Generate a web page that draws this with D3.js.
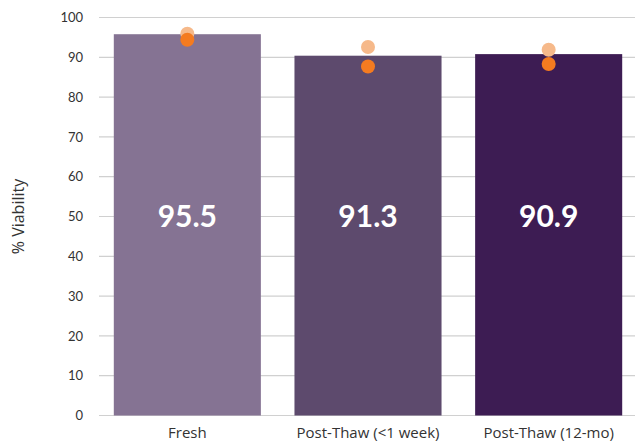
<!DOCTYPE html>
<html>
<head>
<meta charset="utf-8">
<script src="https://cdn.jsdelivr.net/npm/d3@7"></script>
<style>
  html, body { margin: 0; padding: 0; background: #fff; }
  svg { display: block; font-family: Lato, "Open Sans", sans-serif; }
</style>
</head>
<body>
<svg id="chart" width="635" height="441"></svg>
<script>
const categories = ["Fresh", "Post-Thaw (<1 week)", "Post-Thaw (12-mo)"];
const barValues = [95.8, 90.4, 90.8];
const barLabels = ["95.5", "91.3", "90.9"];
const replicateA = [95.9, 92.6, 91.9];
const replicateB = [94.4, 87.7, 88.3];
const yTicks = [0, 10, 20, 30, 40, 50, 60, 70, 80, 90, 100];
const barColors = ["#857393", "#5d4a6d", "#3d1c53"];

const svg = d3.select("#chart");
const W = 635;
const x = d3.scaleBand().domain(categories).range([97, 639]).paddingInner(0.186).paddingOuter(0.093);
const y = d3.scaleLinear().domain([0, 100]).range([415.5, 17.5]);

// y tick labels
const yAxis = d3.axisLeft(y).tickValues(yTicks).tickSize(0).tickPadding(0);
const gy = svg.append("g").attr("transform", "translate(83,0)").call(yAxis);
gy.select(".domain").remove();
gy.selectAll("text").attr("font-size", 13).attr("fill", "#333").attr("font-family", "Lato, sans-serif");

// gridlines
svg.append("g").selectAll("line").data(yTicks).join("line")
  .attr("x1", 99).attr("x2", W)
  .attr("y1", d => y(d)).attr("y2", d => y(d))
  .attr("stroke", "#d0d0d0").attr("stroke-width", 1.2);

// bars
svg.append("g").selectAll("rect").data(categories).join("rect")
  .attr("x", d => x(d)).attr("width", x.bandwidth())
  .attr("y", (d, i) => y(barValues[i]))
  .attr("height", (d, i) => y(0) - y(barValues[i]))
  .attr("fill", (d, i) => barColors[i]);

// dots
svg.append("g").selectAll("circle").data(categories).join("circle")
  .attr("cx", d => x(d) + x.bandwidth() / 2)
  .attr("cy", (d, i) => y(replicateA[i]))
  .attr("r", 7).attr("fill", "#f6b98a");
svg.append("g").selectAll("circle").data(categories).join("circle")
  .attr("cx", d => x(d) + x.bandwidth() / 2)
  .attr("cy", (d, i) => y(replicateB[i]))
  .attr("r", 7).attr("fill", "#f47b20");

// value labels
svg.append("g").selectAll("text").data(categories).join("text")
  .attr("x", d => x(d) + x.bandwidth() / 2)
  .attr("y", y(50))
  .attr("dy", "0.36em")
  .attr("text-anchor", "middle")
  .attr("fill", "#fff").attr("font-weight", 700).attr("font-size", 30)
  .text((d, i) => barLabels[i]);

// x axis labels
const xAxis = d3.axisBottom(x).tickSize(0).tickPadding(0);
const gx = svg.append("g").attr("transform", "translate(0,438)").call(xAxis);
gx.select(".domain").remove();
gx.selectAll("text").attr("font-size", 15).attr("fill", "#333").attr("dy", 0).attr("font-family", "'Open Sans', sans-serif");

// y title
svg.append("text")
  .attr("transform", "translate(24," + y(50) + ") rotate(-90)")
  .attr("text-anchor", "middle")
  .attr("font-size", 16).attr("fill", "#333")
  .attr("font-family", "'Open Sans', sans-serif")
  .text("% Viability");
</script>
</body>
</html>
